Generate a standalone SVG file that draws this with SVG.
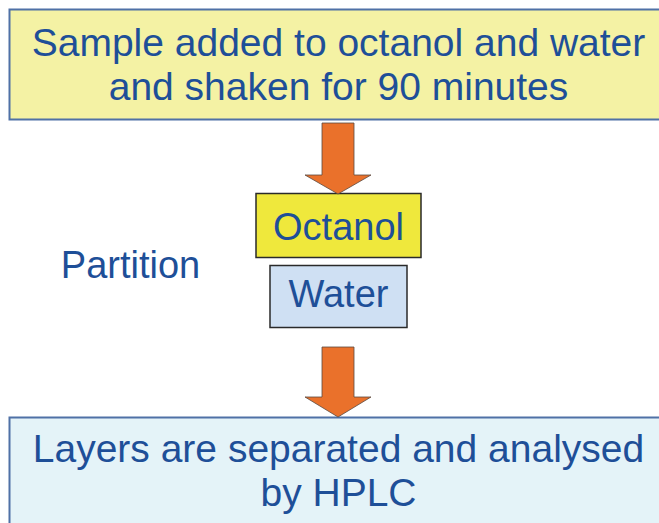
<svg xmlns="http://www.w3.org/2000/svg" width="659" height="523" viewBox="0 0 659 523">
<defs>
<style>
.t{font-family:"Liberation Sans",Arial,sans-serif;font-size:38px;fill:#1e4f98;text-anchor:middle}
.big{font-size:39px}
.box{stroke:#4f71a6;stroke-width:2}
.lay{stroke:#2a2a2a;stroke-width:1.5}
.arr{fill:#ea712b;stroke:#5a4a40;stroke-width:0.8}
</style>
</defs>
<rect width="659" height="523" fill="#ffffff"/>
<g id="sample">
<rect class="box" x="9.5" y="9.5" width="670" height="110" fill="#f4f2a4"/>
<text class="t big" x="338.5" y="56">Sample added to octanol and water</text>
<text class="t big" x="338.5" y="100">and shaken for 90 minutes</text>
</g>
<g id="octanol">
<rect class="lay" x="256" y="193.5" width="165" height="64" fill="#efe83c"/>
<text class="t" x="338.5" y="240">Octanol</text>
</g>
<g id="water">
<rect class="lay" x="270" y="265.5" width="137" height="62" fill="#cfe0f3"/>
<text class="t" x="338.5" y="307">Water</text>
</g>
<g id="partition">
<text class="t" x="130.5" y="278">Partition</text>
</g>
<g id="layers">
<rect class="box" x="9.5" y="417.5" width="670" height="120" fill="#e4f3f8"/>
<text class="t big" x="338.5" y="462">Layers are separated and analysed</text>
<text class="t big" x="338.5" y="506">by HPLC</text>
</g>
<g id="connectors">
<polygon class="arr" points="322,123 354,123 354,175 371,175 338,194 305,175 322,175"/>
<polygon class="arr" points="322,347 354,347 354,397 371,397 338,417 305,397 322,397"/>
</g>
</svg>
